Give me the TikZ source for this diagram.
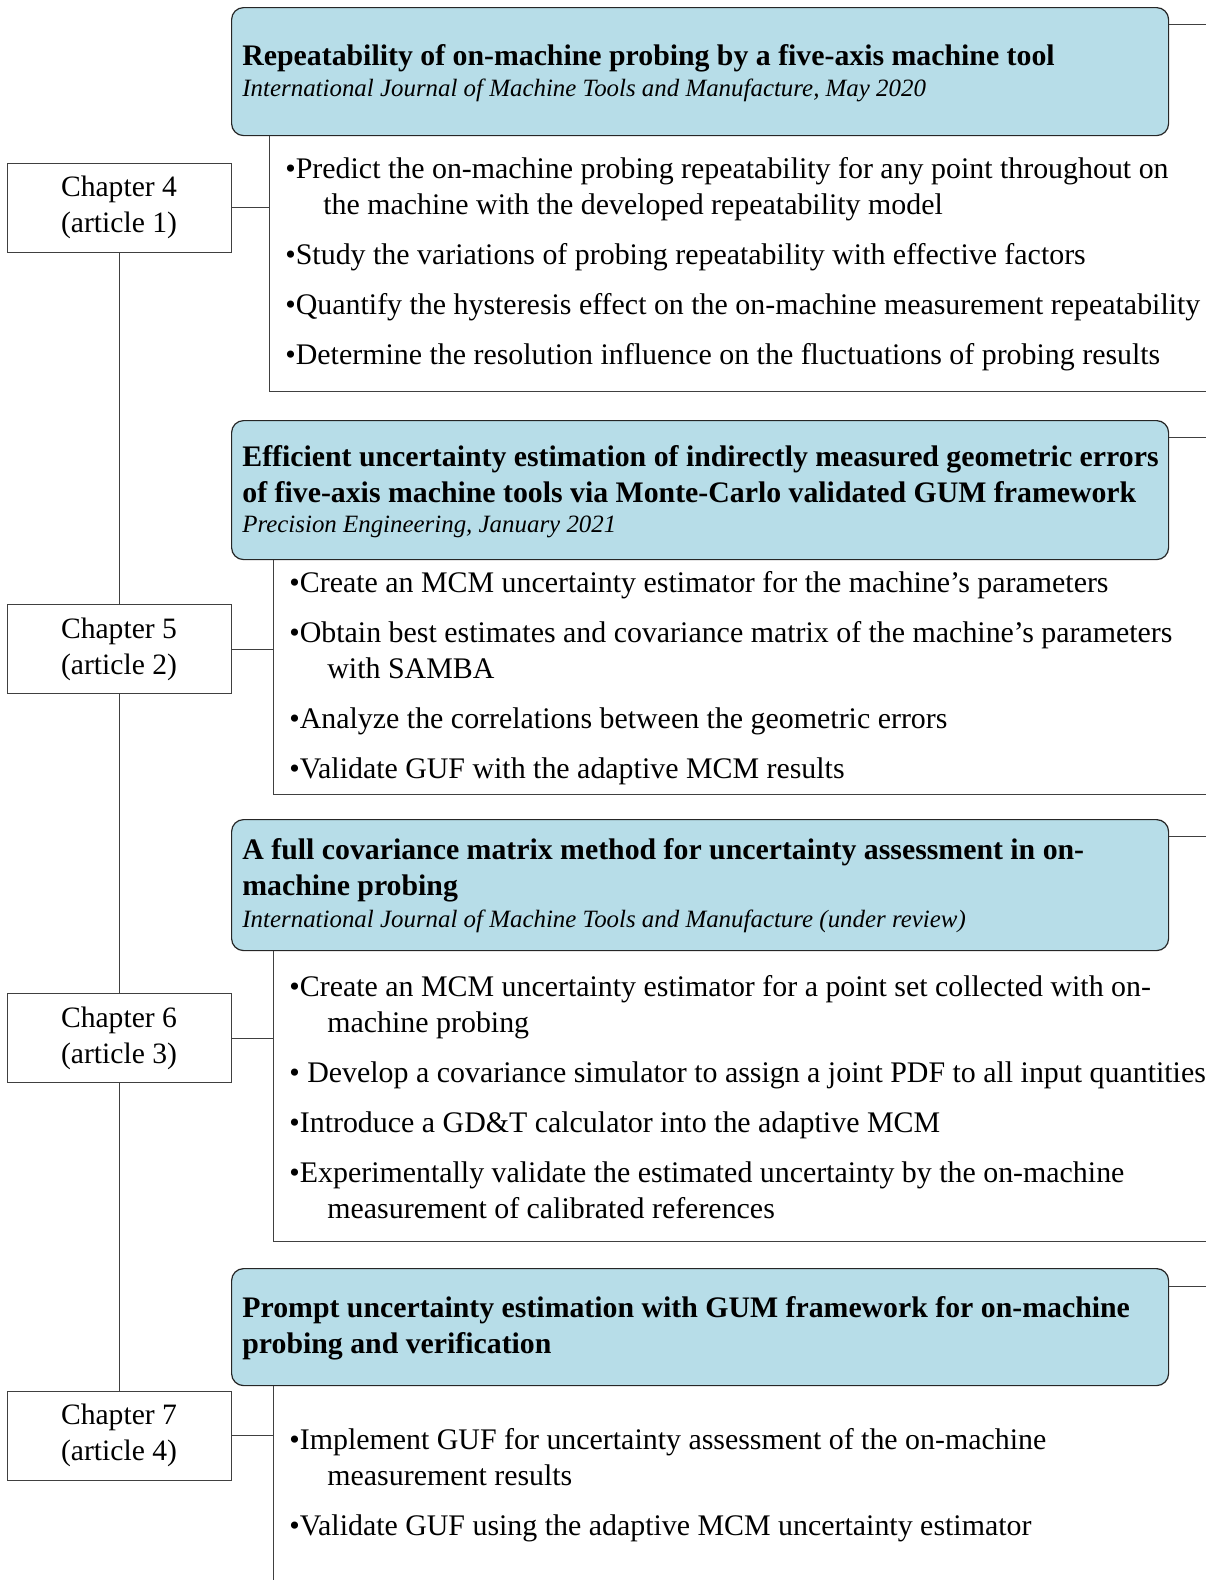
\documentclass[tikz,border=0pt]{standalone}
\usepackage{fontspec}
\setmainfont{Liberation Serif}
\usetikzlibrary{positioning}
\definecolor{boxblue}{RGB}{183,221,232}
\newcommand{\ind}{\hspace*{19pt}}
\begin{document}
\begin{tikzpicture}[x=0.5pt, y=-0.5pt,
    artbox/.style={draw=black!85, fill=boxblue, rounded corners=6pt, line width=0.6pt,
      minimum width=468.5pt, anchor=north west, inner sep=0pt},
    chapbox/.style={draw=black!75, line width=0.5pt, minimum width=112pt, minimum height=44.5pt,
      align=center, inner sep=0pt, font=\fontsize{14.8}{18}\selectfont},
    titletext/.style={anchor=base west, inner sep=0pt, text width=520pt, align=flush left,
      font=\fontsize{14.9}{18}\selectfont\bfseries},
    journal/.style={anchor=base west, inner sep=0pt, text width=520pt, align=flush left,
      font=\fontsize{12.45}{14}\selectfont\itshape},
    itemlist/.style={anchor=base west, inner sep=0pt, text width=520pt, align=flush left,
      font=\fontsize{14.95}{18}\selectfont},
    link/.style={draw=black!75, line width=0.5pt}]
    \useasboundingbox (0,0) rectangle (1206,1580);

    % article boxes
    \node[artbox, minimum height=64pt] (art1) at (231,7) {};
    \node[artbox, minimum height=69.5pt] (art2) at (231,420) {};
    \node[artbox, minimum height=65.5pt] (art3) at (231,819) {};
    \node[artbox, minimum height=58.5pt] (art4) at (231,1268) {};

    \node[titletext] (tit1) at (242,65) {Repeatability of on-machine probing by a five-axis machine tool};
    \node[journal] (jou1) at (242,96) {International Journal of Machine Tools and Manufacture, May 2020};
    \node[titletext] (tit2) at (242,466) {Efficient uncertainty estimation of indirectly measured geometric errors\\
      of five-axis machine tools via Monte-Carlo validated GUM framework};
    \node[journal] (jou2) at (242,532) {Precision Engineering, January 2021};
    \node[titletext] (tit3) at (242,859) {A full covariance matrix method for uncertainty assessment in on-\\
      machine probing};
    \node[journal] (jou3) at (242,927) {International Journal of Machine Tools and Manufacture (under review)};
    \node[titletext] (tit4) at (242,1317) {Prompt uncertainty estimation with GUM framework for on-machine\\
      probing and verification};

    % chapters
    \node[chapbox] (ch4) at (119,207.5) {Chapter 4\\(article 1)};
    \node[chapbox] (ch5) at (119,649) {Chapter 5\\(article 2)};
    \node[chapbox] (ch6) at (119,1038) {Chapter 6\\(article 3)};
    \node[chapbox] (ch7) at (119,1435.5) {Chapter 7\\(article 4)};

    % objectives
    \node[itemlist] (obj1) at (285,178) {•Predict the on-machine probing repeatability for any point throughout on\\
      \ind the machine with the developed repeatability model\\[7pt]
      •Study the variations of probing repeatability with effective factors\\[7pt]
      •Quantify the hysteresis effect on the on-machine measurement repeatability\\[7pt]
      •Determine the resolution influence on the fluctuations of probing results};
    \node[itemlist] (obj2) at (289,592) {•Create an MCM uncertainty estimator for the machine’s parameters\\[7pt]
      •Obtain best estimates and covariance matrix of the machine’s parameters\\
      \ind with SAMBA\\[7pt]
      •Analyze the correlations between the geometric errors\\[7pt]
      •Validate GUF with the adaptive MCM results};
    \node[itemlist] (obj3) at (289,996) {•Create an MCM uncertainty estimator for a point set collected with on-\\
      \ind machine probing\\[7pt]
      • Develop a covariance simulator to assign a joint PDF to all input quantities\\[7pt]
      •Introduce a GD\&T calculator into the adaptive MCM\\[7pt]
      •Experimentally validate the estimated uncertainty by the on-machine\\
      \ind measurement of calibrated references};
    \node[itemlist] (obj4) at (289,1449) {•Implement GUF for uncertainty assessment of the on-machine\\
      \ind measurement results\\[7pt]
      •Validate GUF using the adaptive MCM uncertainty estimator};

    % edge and bracket points
    \coordinate (edge1) at (1206,24);
    \coordinate (edge2) at (1206,437);
    \coordinate (edge3) at (1206,836);
    \coordinate (edge4) at (1206,1286);
    \coordinate (brk1) at (269,391);
    \coordinate (brk2) at (273,794);
    \coordinate (brk3) at (273,1241);
    \coordinate (brk4) at (273,1580);

    \draw[link] (edge1 -| art1.east) -- (edge1);
    \draw[link] (edge2 -| art2.east) -- (edge2);
    \draw[link] (edge3 -| art3.east) -- (edge3);
    \draw[link] (edge4 -| art4.east) -- (edge4);

    \draw[link] (art1.south -| brk1) -- (brk1) -- (brk1 -| edge1);
    \draw[link] (art2.south -| brk2) -- (brk2) -- (brk2 -| edge2);
    \draw[link] (art3.south -| brk3) -- (brk3) -- (brk3 -| edge3);
    \draw[link] (art4.south -| brk4) -- (brk4);

    \draw[link] (ch4.east) -- (ch4.east -| brk1);
    \draw[link] (ch5.east) -- (ch5.east -| brk2);
    \draw[link] (ch6.east) -- (ch6.east -| brk3);
    \draw[link] (ch7.east) -- (ch7.east -| brk4);

    \draw[link] (ch4) -- (ch5);
    \draw[link] (ch5) -- (ch6);
    \draw[link] (ch6) -- (ch7);
\end{tikzpicture}
\end{document}
